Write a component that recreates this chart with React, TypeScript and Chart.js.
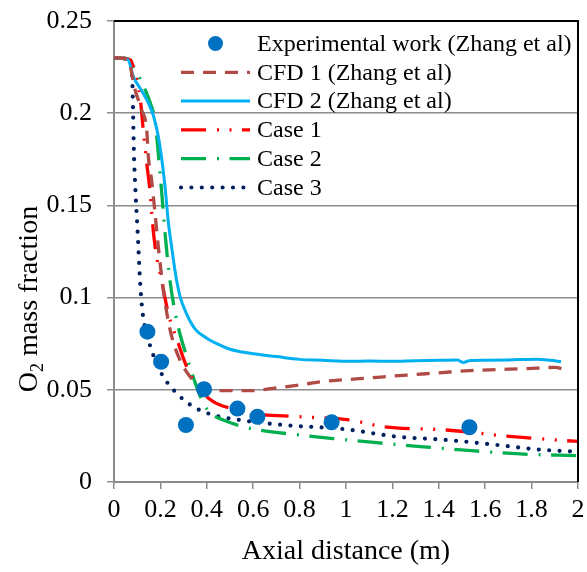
import React, { useEffect, useRef } from "react";
import { Chart, registerables } from "chart.js";

Chart.register(...registerables);

// ---------- data ----------
const expX = [0.144, 0.203, 0.31, 0.388, 0.532, 0.618, 0.938, 1.532];
const expY = [0.0815, 0.0652, 0.0309, 0.0503, 0.0398, 0.0354, 0.0324, 0.0297];

const cfd1X = [0, 0.06, 0.091, 0.119, 0.141, 0.148, 0.162, 0.175, 0.191, 0.2126, 0.23, 0.249, 0.284, 0.328, 0.36, 0.4, 0.5, 0.586, 0.7, 0.8, 0.9, 1.0, 1.075, 1.262, 1.4, 1.534, 1.7, 1.822, 1.9, 1.95];
const cfd1Y = [0.23, 0.229, 0.2126, 0.2017, 0.191, 0.1764, 0.1638, 0.148, 0.1276, 0.104, 0.09, 0.0788, 0.0662, 0.0571, 0.053, 0.0503, 0.0495, 0.0495, 0.051, 0.0526, 0.0545, 0.0555, 0.0562, 0.058, 0.0592, 0.0604, 0.0612, 0.0617, 0.0622, 0.0607];

const cfd2X = [0, 0.06, 0.083, 0.12, 0.15, 0.169, 0.19, 0.205, 0.22, 0.235, 0.249, 0.265, 0.284, 0.31, 0.349, 0.4, 0.443, 0.5, 0.586, 0.7, 0.8, 0.9, 1.017, 1.1, 1.2, 1.3, 1.4, 1.48, 1.506, 1.53, 1.6, 1.7, 1.822, 1.88, 1.927];
const cfd2Y = [0.23, 0.229, 0.2199, 0.212, 0.205, 0.199, 0.188, 0.176, 0.16, 0.14, 0.127, 0.113, 0.101, 0.092, 0.083, 0.078, 0.075, 0.072, 0.0698, 0.068, 0.0665, 0.066, 0.0655, 0.0656, 0.0655, 0.0658, 0.066, 0.0662, 0.0648, 0.0658, 0.066, 0.0662, 0.0666, 0.066, 0.0652];

const case1X = [0, 0.07, 0.09, 0.112, 0.126, 0.141, 0.155, 0.165, 0.18, 0.205, 0.234, 0.277, 0.316, 0.371, 0.428, 0.5, 0.586, 0.8, 1.017, 1.161, 1.434, 1.693, 1.95, 2.0];
const case1Y = [0.23, 0.229, 0.222, 0.209, 0.191, 0.173, 0.158, 0.142, 0.125, 0.1095, 0.0915, 0.0752, 0.0617, 0.0499, 0.0436, 0.04, 0.0373, 0.0354, 0.0336, 0.03, 0.0282, 0.0249, 0.0224, 0.022];

const case2X = [0, 0.06, 0.076, 0.119, 0.162, 0.177, 0.191, 0.205, 0.22, 0.241, 0.27, 0.313, 0.356, 0.385, 0.42, 0.471, 0.586, 0.8, 0.974, 1.132, 1.333, 1.541, 1.75, 2.0];
const case2Y = [0.23, 0.2295, 0.2269, 0.217, 0.2035, 0.196, 0.178, 0.158, 0.135, 0.1095, 0.0879, 0.068, 0.0517, 0.0427, 0.037, 0.0336, 0.0291, 0.0255, 0.0232, 0.0213, 0.0191, 0.017, 0.0152, 0.0143];

const case3X = [0, 0.04, 0.065, 0.076, 0.08, 0.083, 0.086, 0.093, 0.1, 0.105, 0.112, 0.122, 0.135, 0.148, 0.177, 0.2126, 0.27, 0.342, 0.428, 0.543, 0.73, 0.996, 1.218, 1.434, 1.65, 1.822, 2.0];
const case3Y = [0.23, 0.2298, 0.228, 0.225, 0.214, 0.196, 0.178, 0.1566, 0.14, 0.1276, 0.1095, 0.0933, 0.083, 0.077, 0.0662, 0.0571, 0.0481, 0.0408, 0.0363, 0.0336, 0.0309, 0.0286, 0.0246, 0.0228, 0.0201, 0.0177, 0.0164];

const seriesLabels = [
  "Experimental work (Zhang et al)",
  "CFD 1 (Zhang et al)",
  "CFD 2 (Zhang et al)",
  "Case 1",
  "Case 2",
  "Case 3",
];

const xTitle = "Axial distance (m)";
const yTitleMain = "O";
const yTitleSub = "2";
const yTitleRest = " mass fraction";

// ---------- styles ----------
const FONT = "'Liberation Serif', 'Times New Roman', serif";
const colors = ["#0070C0", "#B04A45", "#00B0F0", "#FF0000", "#00B050", "#002060"];
const dashes: number[][] = [[], [13, 9], [], [25, 11, 2, 10.5, 2, 10.5], [25, 11, 2, 10.5], [0, 10.4]];
const widths = [0, 3.3, 3, 3.3, 3.3, 4.2];
const caps = ["butt", "butt", "butt", "butt", "butt", "round"];

const zip = (xs: number[], ys: number[]) => xs.map((x, i) => ({ x, y: ys[i] }));

const overlayPlugin = {
  id: "overlay",
  afterDraw(chart: any) {
    const { ctx, chartArea } = chart;
    const { left, right, top, bottom } = chartArea;
    ctx.save();
    // black top & right border
    ctx.strokeStyle = "#000";
    ctx.lineWidth = 2;
    ctx.setLineDash([]);
    ctx.beginPath();
    ctx.moveTo(left, top);
    ctx.lineTo(right, top);
    ctx.lineTo(right, bottom);
    ctx.stroke();

    // legend
    const rowY0 = 43.5;
    const rowStep = 28.8;
    const sx0 = 181;
    const sx1 = 250;
    const tx = 257;
    ctx.font = `24px ${FONT}`;
    ctx.textBaseline = "middle";
    ctx.textAlign = "left";
    seriesLabels.forEach((lab, i) => {
      const y = rowY0 + i * rowStep;
      if (i === 0) {
        ctx.fillStyle = colors[0];
        ctx.beginPath();
        ctx.arc((sx0 + sx1) / 2, y, 7.5, 0, Math.PI * 2);
        ctx.fill();
      } else {
        ctx.strokeStyle = colors[i];
        ctx.lineWidth = widths[i];
        ctx.lineCap = caps[i];
        ctx.setLineDash(dashes[i]);
        ctx.beginPath();
        ctx.moveTo(sx0, y);
        ctx.lineTo(sx1, y);
        ctx.stroke();
        ctx.setLineDash([]);
        ctx.lineCap = "butt";
      }
      ctx.fillStyle = "#000";
      ctx.fillText(lab, tx, y + 1);
    });

    // x title
    ctx.font = `28px ${FONT}`;
    ctx.textAlign = "center";
    ctx.textBaseline = "alphabetic";
    ctx.fillStyle = "#000";
    ctx.fillText(xTitle, 346, 559);

    // y title (rotated, with subscript)
    ctx.save();
    ctx.translate(37, 299);
    ctx.rotate(-Math.PI / 2);
    ctx.textAlign = "left";
    ctx.font = `28px ${FONT}`;
    const wO = ctx.measureText(yTitleMain).width;
    const wR = ctx.measureText(yTitleRest).width;
    ctx.font = `18px ${FONT}`;
    const w2 = ctx.measureText(yTitleSub).width;
    const total = wO + w2 + wR;
    let x = -total / 2;
    ctx.font = `28px ${FONT}`;
    ctx.fillText(yTitleMain, x, 0);
    x += wO;
    ctx.font = `18px ${FONT}`;
    ctx.fillText(yTitleSub, x, 6);
    x += w2;
    ctx.font = `28px ${FONT}`;
    ctx.fillText(yTitleRest, x, 0);
    ctx.restore();

    ctx.restore();
  },
};

export default function App() {
  const ref = useRef<HTMLCanvasElement | null>(null);

  useEffect(() => {
    document.body.style.margin = "0";
    if (!ref.current) return;
    const lineSeries = [
      [cfd1X, cfd1Y],
      [cfd2X, cfd2Y],
      [case1X, case1Y],
      [case2X, case2Y],
      [case3X, case3Y],
    ];
    const datasets: any[] = [
      {
        label: seriesLabels[0],
        type: "scatter",
        data: zip(expX, expY),
        backgroundColor: colors[0],
        borderColor: colors[0],
        pointRadius: 8,
        pointBorderWidth: 0,
        showLine: false,
        order: 0,
      },
      ...lineSeries.map(([xs, ys], k) => {
        const i = k + 1;
        return {
          label: seriesLabels[i],
          type: "line",
          data: zip(xs, ys),
          borderColor: colors[i],
          backgroundColor: colors[i],
          borderWidth: widths[i],
          borderDash: dashes[i],
          borderCapStyle: caps[i],
          borderJoinStyle: "round",
          pointRadius: 0,
          fill: false,
          cubicInterpolationMode: "monotone",
          order: i,
        };
      }),
    ];

    const chart = new Chart(ref.current, {
      type: "scatter",
      data: { datasets },
      options: {
        animation: false,
        responsive: true,
        maintainAspectRatio: false,
        layout: { padding: { top: 21, right: 9, left: 0, bottom: 0 } },
        plugins: { legend: { display: false }, tooltip: { enabled: false } },
        scales: {
          x: {
            type: "linear",
            min: 0,
            max: 2,
            afterFit: (s: any) => {
              s.height = 90;
              s.paddingLeft = 0;
              s.paddingRight = 0;
            },
            ticks: {
              stepSize: 0.2,
              color: "#000",
              font: { family: FONT, size: 26 },
              padding: 6,
              maxRotation: 0,
              callback: (v: any) => String(parseFloat(Number(v).toFixed(1))),
            },
            grid: {
              drawOnChartArea: false,
              drawTicks: true,
              tickLength: 7,
              color: "#8c8c8c",
              lineWidth: 1.5,
            },
            border: { color: "#8c8c8c", width: 2 },
          },
          y: {
            type: "linear",
            min: 0,
            max: 0.25,
            afterFit: (s: any) => {
              s.width = 114;
              s.paddingTop = 0;
              s.paddingBottom = 0;
            },
            ticks: {
              stepSize: 0.05,
              color: "#000",
              font: { family: FONT, size: 26 },
              padding: 15,
              callback: (v: any) => String(parseFloat(Number(v).toFixed(2))),
            },
            grid: {
              drawTicks: true,
              tickLength: 7,
              color: "#8c8c8c",
              lineWidth: 1.5,
            },
            border: { color: "#8c8c8c", width: 2 },
          },
        },
      },
      plugins: [overlayPlugin],
    } as any);
    return () => chart.destroy();
  }, []);

  return (
    <div style={{ position: "relative", width: 587, height: 572 }}>
      <canvas ref={ref} />
    </div>
  );
}
